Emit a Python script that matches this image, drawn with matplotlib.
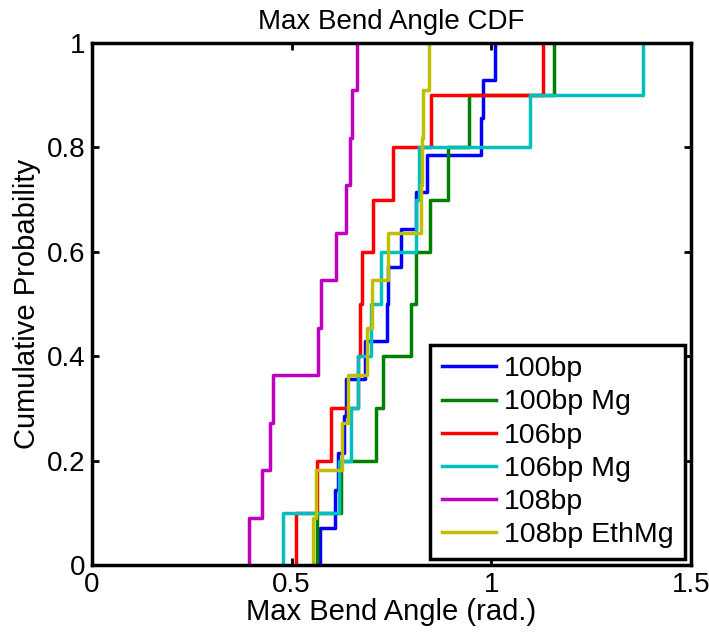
import numpy as np
import matplotlib
matplotlib.use("Agg")
import matplotlib.pyplot as plt

plt.rcParams['font.family'] = ['Liberation Sans', 'DejaVu Sans']

# Max bend angle samples (rad.)
bp100 = [0.570, 0.6075, 0.616, 0.630, 0.637, 0.683, 0.739, 0.741,
         0.773, 0.812, 0.840, 0.975, 0.979, 1.008]
bp100_mg = [0.564, 0.624, 0.712, 0.728, 0.798, 0.812, 0.847, 0.892, 0.944, 1.156]
bp106 = [0.510, 0.564, 0.599, 0.665, 0.670, 0.677, 0.703, 0.754, 0.850, 1.129]
bp106_mg = [0.478, 0.618, 0.649, 0.666, 0.699, 0.723, 0.812, 0.818, 1.097, 1.379]
bp108 = [0.393, 0.426, 0.445, 0.453, 0.567, 0.574, 0.610, 0.637, 0.647, 0.650, 0.663]
bp108_ethmg = [0.553, 0.562, 0.627, 0.641, 0.689, 0.702, 0.741, 0.8245, 0.8265,
               0.8285, 0.843]

labels = ["100bp", "100bp Mg", "106bp", "106bp Mg", "108bp", "108bp EthMg"]
series = [bp100, bp100_mg, bp106, bp106_mg, bp108, bp108_ethmg]
colors = ["#0000ff", "#008000", "#ff0000", "#00bfbf", "#bf00bf", "#bfbf00"]

xticks = [0, 0.5, 1, 1.5]
xticklabels = ["0", "0.5", "1", "1.5"]
yticks = [0, 0.2, 0.4, 0.6, 0.8, 1]
yticklabels = ["0", "0.2", "0.4", "0.6", "0.8", "1"]

fig = plt.figure(figsize=(7.09, 6.36), dpi=100)
ax = fig.add_axes([0.1298, 0.1116, 0.8448, 0.8208])

for vals, lab, col in zip(series, labels, colors):
    x = np.sort(np.array(vals))
    n = len(x)
    xs = np.concatenate([[x[0]], x])
    ys = np.arange(n + 1) / n
    ax.step(xs, ys, where='post', color=col, lw=2.5, label=lab)

ax.set_xlim(0, 1.5)
ax.set_ylim(0, 1)
ax.set_xticks(xticks)
ax.set_xticklabels(xticklabels)
ax.set_yticks(yticks)
ax.set_yticklabels(yticklabels)
ax.tick_params(direction='in', length=5, width=2, top=True, right=True,
               labelsize=20, pad=5)
for s in ax.spines.values():
    s.set_linewidth(2.5)

ax.set_title("Max Bend Angle CDF", fontsize=20, pad=10)
ax.set_xlabel("Max Bend Angle (rad.)", fontsize=21, labelpad=0)
ax.set_ylabel("Cumulative Probability", fontsize=21, labelpad=4)

leg = ax.legend(loc='lower right', fontsize=20.5, fancybox=False, framealpha=1,
                edgecolor='black', handlelength=1.9, handletextpad=0.3,
                labelspacing=0.25, borderpad=0.4, borderaxespad=0.2)
leg.get_frame().set_linewidth(2.5)

fig.savefig("out.png", dpi=100)
